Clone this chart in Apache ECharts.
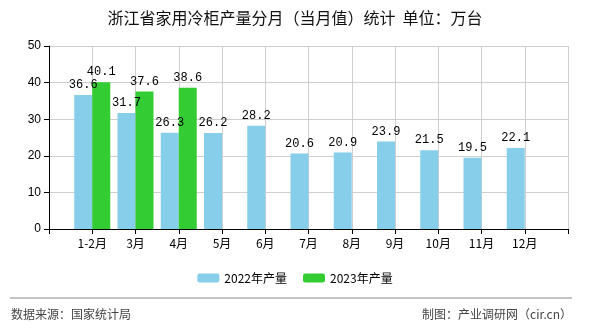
<!DOCTYPE html>
<html><head><meta charset="utf-8">
<script src="https://cdn.jsdelivr.net/npm/echarts@6/dist/echarts.min.js"></script>
<style>html,body{margin:0;padding:0;background:#fff}#c{width:590px;height:330px}</style>
</head><body><div id="c"></div>
<script>
const categories = ['1-2月','3月','4月','5月','6月','7月','8月','9月','10月','11月','12月'];
const values2022 = [36.6, 31.7, 26.3, 26.2, 28.2, 20.6, 20.9, 23.9, 21.5, 19.5, 22.1];
const values2023 = [40.1, 37.6, 38.6, null, null, null, null, null, null, null, null];
const seriesNames = ['2022年产量', '2023年产量'];
const yTicks = [0, 10, 20, 30, 40, 50];

const axisCats = [''].concat(categories, ['']);
const pad = a => [null].concat(a, [null]);
const labelStyle = {show: true, position: 'top', distance: 4, color: '#000',
  fontFamily: 'Liberation Mono, DejaVu Sans Mono, monospace', fontSize: 12,
  formatter: p => p.value == null ? '' : p.value.toFixed(1)};

const chart = echarts.init(document.getElementById('c'));
chart.setOption({
  animation: false,
  title: {text: '浙江省家用冷柜产量分月（当月值）统计  单位：万台', left: 'center', top: 5,
    textStyle: {fontSize: 16, fontWeight: 'normal', color: '#111', fontFamily: 'Noto Sans CJK SC'}},
  grid: {left: 49, right: 22, top: 46, bottom: 101},
  legend: {bottom: 41, left: 'center', itemWidth: 22, itemHeight: 9, itemGap: 16,
    textStyle: {fontSize: 12, color: '#000', fontFamily: 'Noto Sans CJK SC'},
    data: seriesNames},
  xAxis: {type: 'category', data: axisCats, boundaryGap: false,
    axisLine: {lineStyle: {color: '#000'}},
    axisTick: {show: true, length: 5, lineStyle: {color: '#000'}},
    axisLabel: {color: '#000', fontSize: 12, fontFamily: 'Noto Sans CJK SC', margin: 8},
    splitLine: {show: true, lineStyle: {color: '#cfcfcf'}}},
  yAxis: {type: 'value', min: yTicks[0], max: yTicks[yTicks.length-1], interval: 10,
    axisLine: {show: true, lineStyle: {color: '#000'}},
    axisTick: {show: true, length: 5, lineStyle: {color: '#000'}},
    axisLabel: {color: '#000', fontSize: 12, fontFamily: 'Liberation Sans', margin: 8},
    splitLine: {show: true, lineStyle: {color: '#cfcfcf'}}},
  series: [
    {name: seriesNames[0], type: 'bar', data: pad(values2022), barWidth: 18, barGap: '0%',
      itemStyle: {color: '#87CEEB'}, label: labelStyle},
    {name: seriesNames[1], type: 'bar', data: pad(values2023), barWidth: 18, barGap: '0%',
      itemStyle: {color: '#33CC33'}, label: labelStyle}
  ],
  graphic: [
    {type: 'line', shape: {x1: 10, y1: 298, x2: 572, y2: 298}, style: {stroke: '#888', lineWidth: 1}},
    {type: 'text', left: 11, top: 308, style: {text: '数据来源：国家统计局', fill: '#444', fontSize: 12, fontFamily: 'Noto Sans CJK SC'}},
    {type: 'text', right: 18, top: 308, style: {text: '制图：产业调研网（cir.cn）', fill: '#444', fontSize: 12, fontFamily: 'Noto Sans CJK SC'}}
  ]
});
</script></body></html>
